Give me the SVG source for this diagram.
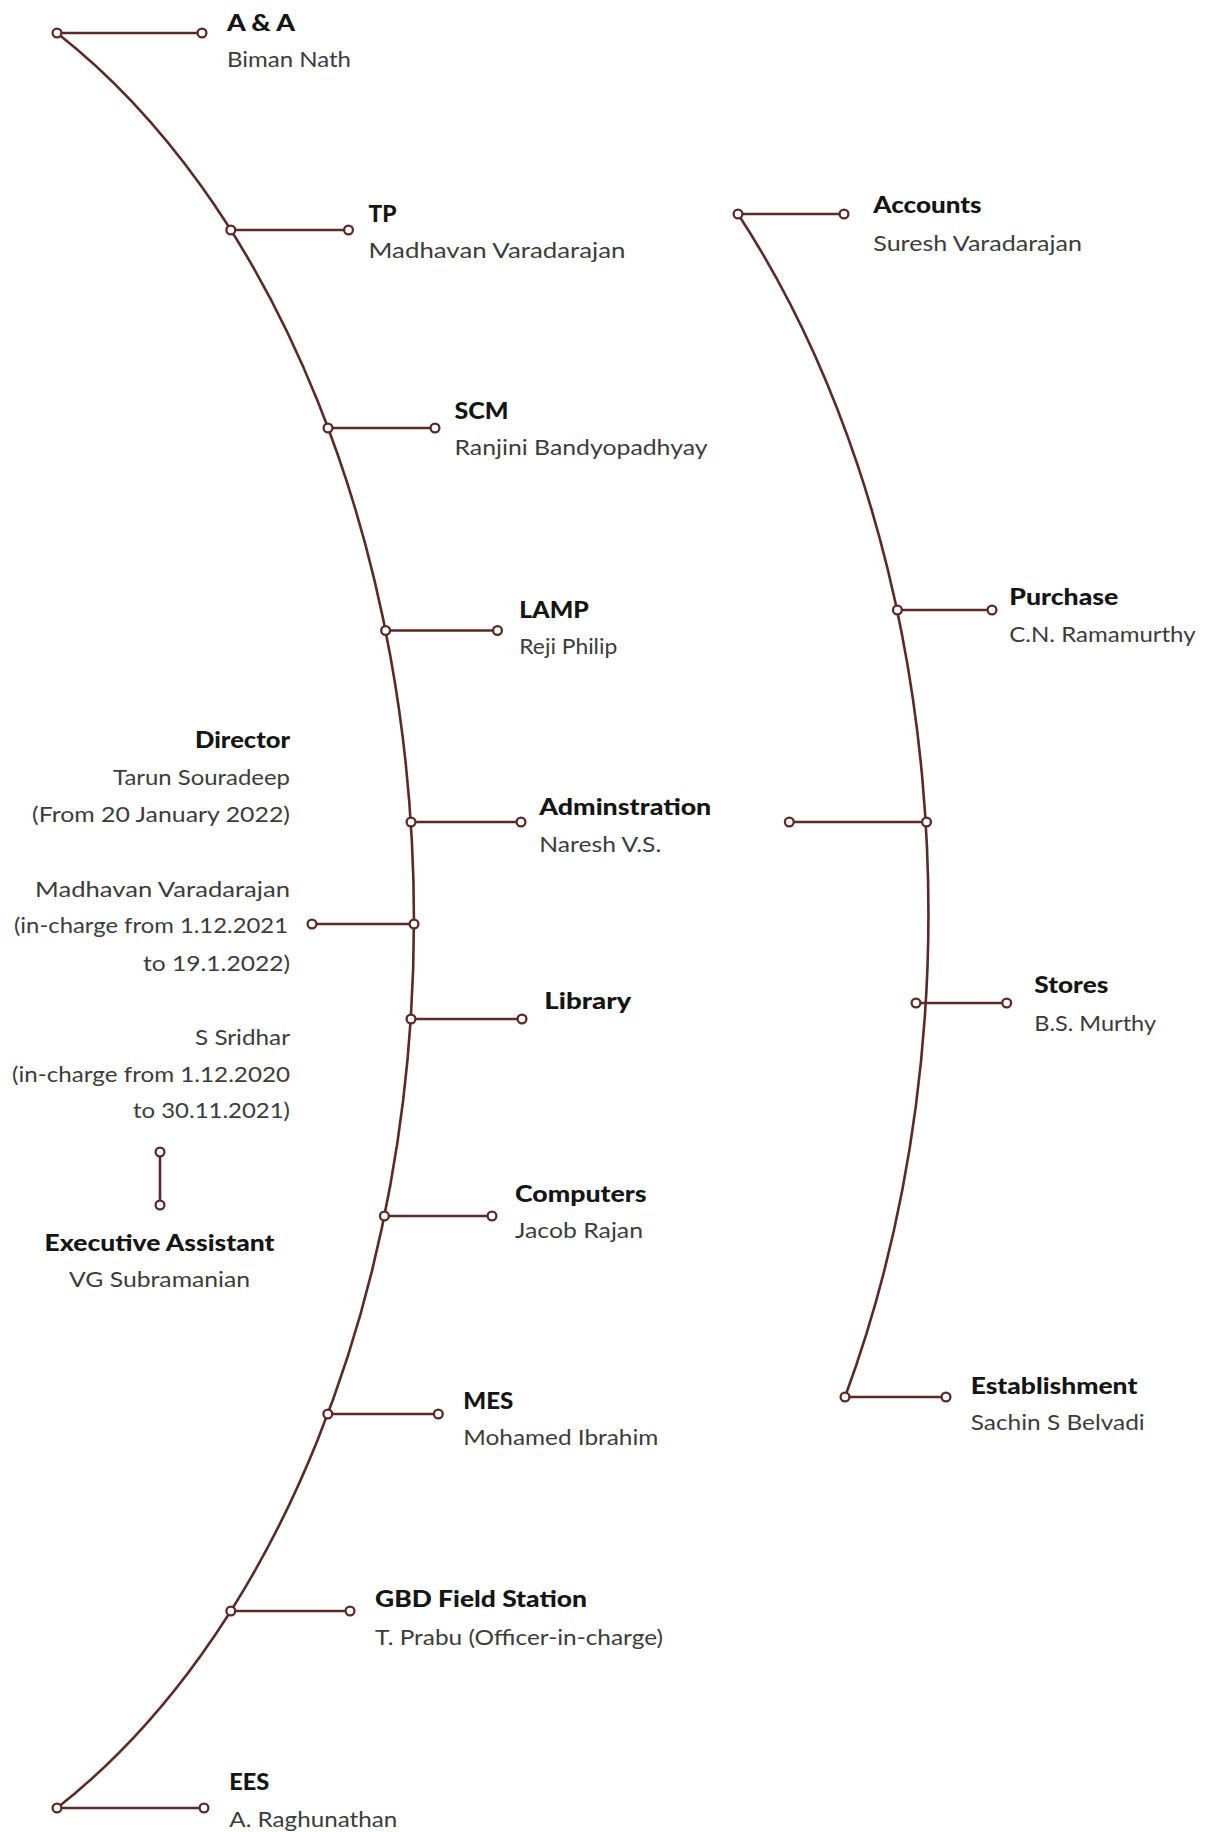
<svg xmlns="http://www.w3.org/2000/svg" width="1208" height="1832" viewBox="0 0 1208 1832">
<style>
.ln{stroke:#5c2a26;stroke-width:2.6;fill:none;stroke-linecap:round}
.dot{fill:#fff;stroke:#5c2a26;stroke-width:2.3}
.t{font-family:Lato,"Liberation Sans",sans-serif;font-size:22px;font-weight:900;fill:#151515}
.n{font-family:Lato,"Liberation Sans",sans-serif;font-size:22px;font-weight:400;fill:#3c3c3c}
.r{text-anchor:end}
.c{text-anchor:middle}
</style>
<rect width="1208" height="1832" fill="#fff"/>
<g id="connectors">
<path class="ln" d="M 57 33 A 662 1000 0 0 1 57 1808"/>
<path class="ln" d="M 738 214 A 668 1000 0 0 1 845 1397"/>
<path class="ln" d="M57 33H202M230.8 230H348.5M328 428H435M385.6 630.5H497.5M411 822H521M312 924H414M411 1019H522M384.4 1216H492M327.8 1414H438.3M230.8 1611H350M57 1808H204"/>
<path class="ln" d="M738 214H844M897.4 610H992M789.3 822H926.5M916 1003H1006.7M845 1397H946M160 1152V1205"/>
<circle class="dot" cx="230.8" cy="230" r="4.4"/>
<circle class="dot" cx="328" cy="428" r="4.4"/>
<circle class="dot" cx="385.6" cy="630.5" r="4.4"/>
<circle class="dot" cx="411" cy="822" r="4.4"/>
<circle class="dot" cx="414" cy="924" r="4.4"/>
<circle class="dot" cx="411" cy="1019" r="4.4"/>
<circle class="dot" cx="384.4" cy="1216" r="4.4"/>
<circle class="dot" cx="327.8" cy="1414" r="4.4"/>
<circle class="dot" cx="230.8" cy="1611" r="4.4"/>
<circle class="dot" cx="897.4" cy="610" r="4.4"/>
<circle class="dot" cx="926.5" cy="822" r="4.4"/>
<circle class="dot" cx="916" cy="1003" r="4.4"/>
</g>
<g id="node-aa">
<circle class="dot" cx="57" cy="33" r="4.4"/><circle class="dot" cx="202" cy="33" r="4.4"/>
<text class="t" x="227" y="31" textLength="68" lengthAdjust="spacingAndGlyphs">A &amp; A</text>
<text class="n" x="227" y="67" textLength="124" lengthAdjust="spacingAndGlyphs">Biman Nath</text>
</g>
<g id="node-tp">
<circle class="dot" cx="348.5" cy="230" r="4.4"/>
<text class="t" x="368.5" y="221.5" textLength="28" lengthAdjust="spacingAndGlyphs">TP</text>
<text class="n" x="368.5" y="258" textLength="257" lengthAdjust="spacingAndGlyphs">Madhavan Varadarajan</text>
</g>
<g id="node-scm">
<circle class="dot" cx="435" cy="428" r="4.4"/>
<text class="t" x="454.5" y="419" textLength="54" lengthAdjust="spacingAndGlyphs">SCM</text>
<text class="n" x="454.5" y="454.5" textLength="253" lengthAdjust="spacingAndGlyphs">Ranjini Bandyopadhyay</text>
</g>
<g id="node-lamp">
<circle class="dot" cx="497.5" cy="630.5" r="4.4"/>
<text class="t" x="519.3" y="618.3" textLength="69.5" lengthAdjust="spacingAndGlyphs">LAMP</text>
<text class="n" x="519.3" y="653.5" textLength="98" lengthAdjust="spacingAndGlyphs">Reji Philip</text>
</g>
<g id="node-admin">
<circle class="dot" cx="521" cy="822" r="4.4"/>
<text class="t" x="539.3" y="815" textLength="172" lengthAdjust="spacingAndGlyphs">Adminstration</text>
<text class="n" x="539.3" y="851.7" textLength="122" lengthAdjust="spacingAndGlyphs">Naresh V.S.</text>
</g>
<g id="node-director">
<circle class="dot" cx="312" cy="924" r="4.4"/>
<text class="t r" x="290" y="748.3" textLength="95" lengthAdjust="spacingAndGlyphs">Director</text>
<text class="n r" x="290" y="785" textLength="177" lengthAdjust="spacingAndGlyphs">Tarun Souradeep</text>
<text class="n r" x="290" y="821.7" textLength="258" lengthAdjust="spacingAndGlyphs">(From 20 January 2022)</text>
<text class="n r" x="290" y="896.7" textLength="255" lengthAdjust="spacingAndGlyphs">Madhavan Varadarajan</text>
<text class="n r" x="288" y="933" textLength="274" lengthAdjust="spacingAndGlyphs">(in-charge from 1.12.2021</text>
<text class="n r" x="290" y="970.7" textLength="147" lengthAdjust="spacingAndGlyphs">to 19.1.2022)</text>
<text class="n r" x="290" y="1045" textLength="95" lengthAdjust="spacingAndGlyphs">S Sridhar</text>
<text class="n r" x="290" y="1081.7" textLength="278" lengthAdjust="spacingAndGlyphs">(in-charge from 1.12.2020</text>
<text class="n r" x="290" y="1118" textLength="157" lengthAdjust="spacingAndGlyphs">to 30.11.2021)</text>
</g>
<g id="node-library">
<circle class="dot" cx="522" cy="1019" r="4.4"/>
<text class="t" x="544.3" y="1009.3" textLength="87" lengthAdjust="spacingAndGlyphs">Library</text>
</g>
<g id="node-exec">
<circle class="dot" cx="160" cy="1152" r="4.4"/><circle class="dot" cx="160" cy="1205" r="4.4"/>
<text class="t c" x="159.6" y="1250.7" textLength="230" lengthAdjust="spacingAndGlyphs">Executive Assistant</text>
<text class="n c" x="159.6" y="1286.7" textLength="181" lengthAdjust="spacingAndGlyphs">VG Subramanian</text>
</g>
<g id="node-computers">
<circle class="dot" cx="492" cy="1216" r="4.4"/>
<text class="t" x="515" y="1201.7" textLength="131.7" lengthAdjust="spacingAndGlyphs">Computers</text>
<text class="n" x="515" y="1238" textLength="128" lengthAdjust="spacingAndGlyphs">Jacob Rajan</text>
</g>
<g id="node-mes">
<circle class="dot" cx="438.3" cy="1414" r="4.4"/>
<text class="t" x="463.3" y="1409" textLength="50" lengthAdjust="spacingAndGlyphs">MES</text>
<text class="n" x="463.3" y="1445" textLength="195" lengthAdjust="spacingAndGlyphs">Mohamed Ibrahim</text>
</g>
<g id="node-gbd">
<circle class="dot" cx="350" cy="1611" r="4.4"/>
<text class="t" x="375" y="1607" textLength="212" lengthAdjust="spacingAndGlyphs">GBD Field Station</text>
<text class="n" x="375" y="1645" textLength="288" lengthAdjust="spacingAndGlyphs">T. Prabu (Officer-in-charge)</text>
</g>
<g id="node-ees">
<circle class="dot" cx="57" cy="1808" r="4.4"/><circle class="dot" cx="204" cy="1808" r="4.4"/>
<text class="t" x="229.3" y="1790" textLength="40" lengthAdjust="spacingAndGlyphs">EES</text>
<text class="n" x="229.3" y="1826.7" textLength="168" lengthAdjust="spacingAndGlyphs">A. Raghunathan</text>
</g>
<g id="node-accounts">
<circle class="dot" cx="738" cy="214" r="4.4"/><circle class="dot" cx="844" cy="214" r="4.4"/>
<text class="t" x="873.3" y="213.3" textLength="108.3" lengthAdjust="spacingAndGlyphs">Accounts</text>
<text class="n" x="873.3" y="250.7" textLength="208.7" lengthAdjust="spacingAndGlyphs">Suresh Varadarajan</text>
</g>
<g id="node-purchase">
<circle class="dot" cx="992" cy="610" r="4.4"/>
<text class="t" x="1009.3" y="605" textLength="109" lengthAdjust="spacingAndGlyphs">Purchase</text>
<text class="n" x="1009.3" y="641.7" textLength="186.3" lengthAdjust="spacingAndGlyphs">C.N. Ramamurthy</text>
</g>
<g id="node-admin-right">
<circle class="dot" cx="789.3" cy="822" r="4.4"/>
</g>
<g id="node-stores">
<circle class="dot" cx="1006.7" cy="1003" r="4.4"/>
<text class="t" x="1034.3" y="993.3" textLength="74" lengthAdjust="spacingAndGlyphs">Stores</text>
<text class="n" x="1034.3" y="1031" textLength="121.7" lengthAdjust="spacingAndGlyphs">B.S. Murthy</text>
</g>
<g id="node-establishment">
<circle class="dot" cx="845" cy="1397" r="4.4"/><circle class="dot" cx="946" cy="1397" r="4.4"/>
<text class="t" x="970.7" y="1394.3" textLength="166.7" lengthAdjust="spacingAndGlyphs">Establishment</text>
<text class="n" x="970.7" y="1430" textLength="174" lengthAdjust="spacingAndGlyphs">Sachin S Belvadi</text>
</g>
</svg>
